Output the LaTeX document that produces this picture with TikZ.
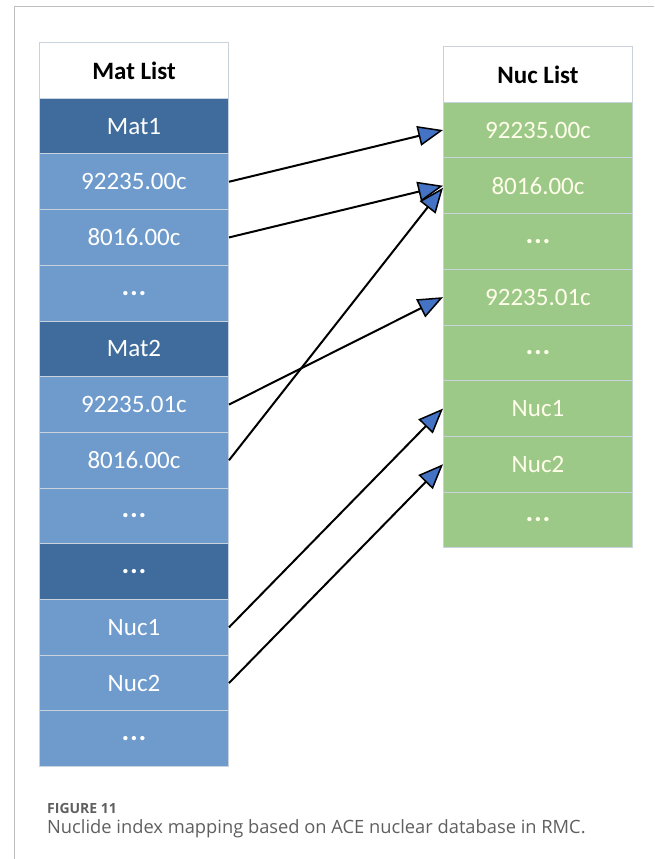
\documentclass[tikz,border=0pt]{standalone}
\usepackage{fontspec}
\setmainfont{Carlito}
\newfontfamily\capfont{Open Sans}
\usetikzlibrary{arrows.meta}

\definecolor{matdark}{HTML}{3F6C9C}
\definecolor{matlight}{HTML}{6E9BCC}
\definecolor{nucgreen}{HTML}{9DC988}
\definecolor{sepline}{HTML}{C9D3DD}
\definecolor{framegray}{HTML}{BEBEBE}
\definecolor{headblue}{HTML}{4472C4}
\definecolor{captext}{HTML}{5F5F5F}

% three bold dots standing for omitted entries
\newcommand{\gap}{{\fontsize{29}{30}\selectfont\bfseries.\kern0.8pt.\kern0.8pt.}}

\tikzset{
  cell/.style={draw=sepline, line width=1pt, minimum width=189pt, minimum height=55.7pt,
    inner sep=0pt, anchor=north west, font=\fontsize{25}{29}\selectfont},
  header/.style={cell, fill=white, text=black, font=\fontsize{25}{29}\selectfont\bfseries},
  dark/.style={cell, fill=matdark, text=white},
  light/.style={cell, fill=matlight, text=white},
  green/.style={cell, fill=nucgreen, text=white!92!yellow},
  arr/.style={line width=2pt, black,
    -{Triangle[length=25pt, width=20pt, fill=headblue, line width=1.5pt]}},
}

\begin{document}
\begin{tikzpicture}[x=1pt, y=-1pt]
  \useasboundingbox (0,0) rectangle (654,859);

  % partial frame
  \draw[framegray, line width=1pt] (654,7) -- (14,7) -- (14,859);

  % material list
  \node[header] (L0)  at (39,42)    {Mat List};
  \node[dark]   (L1)  at (39,97.7)  {Mat1};
  \node[light]  (L2)  at (39,153.4) {92235.00c};
  \node[light]  (L3)  at (39,209.1) {8016.00c};
  \node[light]  (L4)  at (39,264.8) {\gap};
  \node[dark]   (L5)  at (39,320.5) {Mat2};
  \node[light]  (L6)  at (39,376.2) {92235.01c};
  \node[light]  (L7)  at (39,431.9) {8016.00c};
  \node[light]  (L8)  at (39,487.6) {\gap};
  \node[dark]   (L9)  at (39,543.3) {\gap};
  \node[light]  (L10) at (39,599.0) {Nuc1};
  \node[light]  (L11) at (39,654.7) {Nuc2};
  \node[light]  (L12) at (39,710.4) {\gap};

  % nuclide list
  \node[header] (R0) at (443,46)    {Nuc List};
  \node[green]  (R1) at (443,101.7) {92235.00c};
  \node[green]  (R2) at (443,157.4) {8016.00c};
  \node[green]  (R3) at (443,213.1) {\gap};
  \node[green]  (R4) at (443,268.8) {92235.01c};
  \node[green]  (R5) at (443,324.5) {\gap};
  \node[green]  (R6) at (443,380.2) {Nuc1};
  \node[green]  (R7) at (443,435.9) {Nuc2};
  \node[green]  (R8) at (443,491.6) {\gap};

  % index mapping
  \draw[arr] (L2.east)  -- (R1.west);
  \draw[arr] (L3.east)  -- (R2.west);
  \draw[arr] (L6.east)  -- (R4.west);
  \draw[arr] (L7.east)  -- ([yshift=-2pt]R2.west);
  \draw[arr] (L10.east) -- (R6.west);
  \draw[arr] (L11.east) -- (R7.west);

  % caption
  \node[anchor=base west, inner sep=0pt, text=captext, font=\capfont\bfseries\fontsize{14}{16}\selectfont]
    (fig) at (47,813) {FIGURE 11};
  \node[anchor=base west, inner sep=0pt, text=captext, font=\capfont\fontsize{18.3}{22}\selectfont]
    (cap) at (47,833) {Nuclide index mapping based on ACE nuclear database in RMC.};
\end{tikzpicture}
\end{document}
